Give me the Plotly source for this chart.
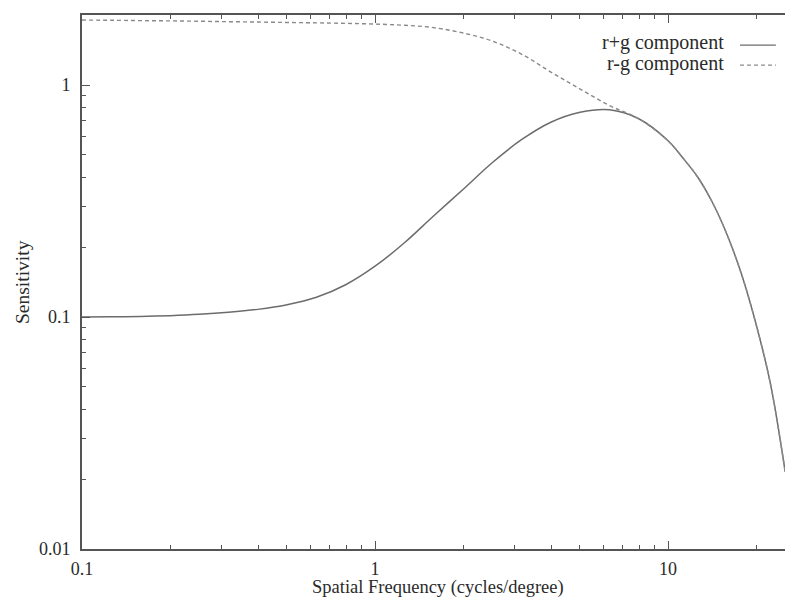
import plotly.graph_objects as go

# Spatial frequency samples (cycles/degree)
freq = [0.1, 0.126, 0.158, 0.2, 0.251, 0.316, 0.398, 0.501, 0.631, 0.794,
        1.0, 1.26, 1.58, 2.0, 2.51, 3.16, 3.98, 5.01, 6.31, 7.94,
        10.0, 11.2, 12.6, 14.1, 15.8, 17.8, 20.0, 22.4, 25.1]

# Luminance (r+g) channel sensitivity
rg_sum = [0.1000, 0.1002, 0.1006, 0.1014, 0.1027, 0.1048, 0.1079, 0.1130, 0.1217, 0.1378,
          0.1656, 0.2090, 0.2720, 0.3555, 0.4625, 0.5811, 0.6914, 0.7633, 0.7826, 0.7157,
          0.5753, 0.4870, 0.4025, 0.3156, 0.2309, 0.1532, 0.0924, 0.0509, 0.0215]

# Chromatic (r-g) channel sensitivity
rg_diff = [1.906, 1.902, 1.896, 1.891, 1.884, 1.876, 1.869, 1.861, 1.854, 1.845,
           1.832, 1.810, 1.769, 1.676, 1.548, 1.360, 1.138, 0.961, 0.816, 0.7157,
           0.5753, 0.4870, 0.4025, 0.3156, 0.2309, 0.1532, 0.0924, 0.0509, 0.0215]

x_major = [0.1, 1, 10]
x_major_text = ["0.1", "1", "10"]
y_major = [0.01, 0.1, 1]
y_major_text = ["0.01", "0.1", "1"]

legend_labels = ["r+g component", "r-g component"]

FONT = "Liberation Serif"
AXIS_COL = "#555555"
TEXT_COL = "#2a2a2a"
SOLID_COL = "#6c6c6c"
DASH_COL = "#8a8a8a"
DASH = "4px,3px"

x_minor = [m * 10 ** e for e in (-1, 0, 1) for m in range(2, 10)]
y_minor = [m * 10 ** e for e in (-2, -1, 0) for m in range(2, 10)]

fig = go.Figure()
fig.add_trace(go.Scatter(x=freq, y=rg_sum, mode="lines", line_shape="spline",
                         line=dict(color=SOLID_COL, width=1.5), showlegend=False))
fig.add_trace(go.Scatter(x=freq, y=rg_diff, mode="lines", line_shape="spline",
                         line=dict(color=DASH_COL, width=1.4, dash=DASH),
                         showlegend=False))

# gnuplot-style key: text right-aligned, sample line to its right
for i, (lab, dash, col) in enumerate(zip(legend_labels, ["solid", DASH],
                                         [SOLID_COL, DASH_COL])):
    yp = 0.9476 - i * 0.0375
    fig.add_annotation(x=0.916, y=yp, xref="paper", yref="paper", text=lab,
                       showarrow=False, xanchor="right", yanchor="middle",
                       font=dict(family=FONT, size=20, color=TEXT_COL))
    fig.add_shape(type="line", xref="paper", yref="paper", x0=0.936, x1=0.987,
                  y0=yp - 0.004, y1=yp - 0.004, line=dict(color=col, width=1.3, dash=dash))

# axis titles
fig.add_annotation(x=0.506, y=-0.0955, xref="paper", yref="paper",
                   text="Spatial Frequency (cycles/degree)", showarrow=False,
                   xanchor="center", yanchor="bottom",
                   font=dict(family=FONT, size=18.5, color=TEXT_COL))
fig.add_annotation(x=-0.0853, y=0.5, xref="paper", yref="paper",
                   text="Sensitivity", showarrow=False, textangle=-90,
                   xanchor="center", yanchor="middle",
                   font=dict(family=FONT, size=19.5, color=TEXT_COL))

fig.update_xaxes(
    type="log", range=[-1, 1.399],
    tickmode="array", tickvals=x_major, ticktext=x_major_text,
    ticks="inside", ticklen=8, tickwidth=1.2, tickcolor=AXIS_COL,
    minor=dict(tickmode="array", tickvals=x_minor, ticks="inside", ticklen=4,
               tickwidth=1, tickcolor=AXIS_COL, showgrid=False),
    showline=True, linecolor=AXIS_COL, linewidth=2, mirror="allticks",
    showgrid=False, zeroline=False, ticklabelstandoff=2,
    tickfont=dict(family=FONT, size=18, color=TEXT_COL),
)
fig.update_yaxes(
    type="log", range=[-2, 0.302],
    tickmode="array", tickvals=y_major, ticktext=y_major_text,
    ticks="inside", ticklen=8, tickwidth=1.2, tickcolor=AXIS_COL,
    minor=dict(tickmode="array", tickvals=y_minor, ticks="inside", ticklen=4,
               tickwidth=1, tickcolor=AXIS_COL, showgrid=False),
    showline=True, linecolor=AXIS_COL, linewidth=2, mirror=False,
    showgrid=False, zeroline=False, ticklabelstandoff=6,
    tickfont=dict(family=FONT, size=18, color=TEXT_COL),
)

fig.update_layout(
    width=785, height=600,
    margin=dict(l=82, r=0, t=15, b=51),
    paper_bgcolor="white", plot_bgcolor="white",
)

fig.write_html("out.html")
